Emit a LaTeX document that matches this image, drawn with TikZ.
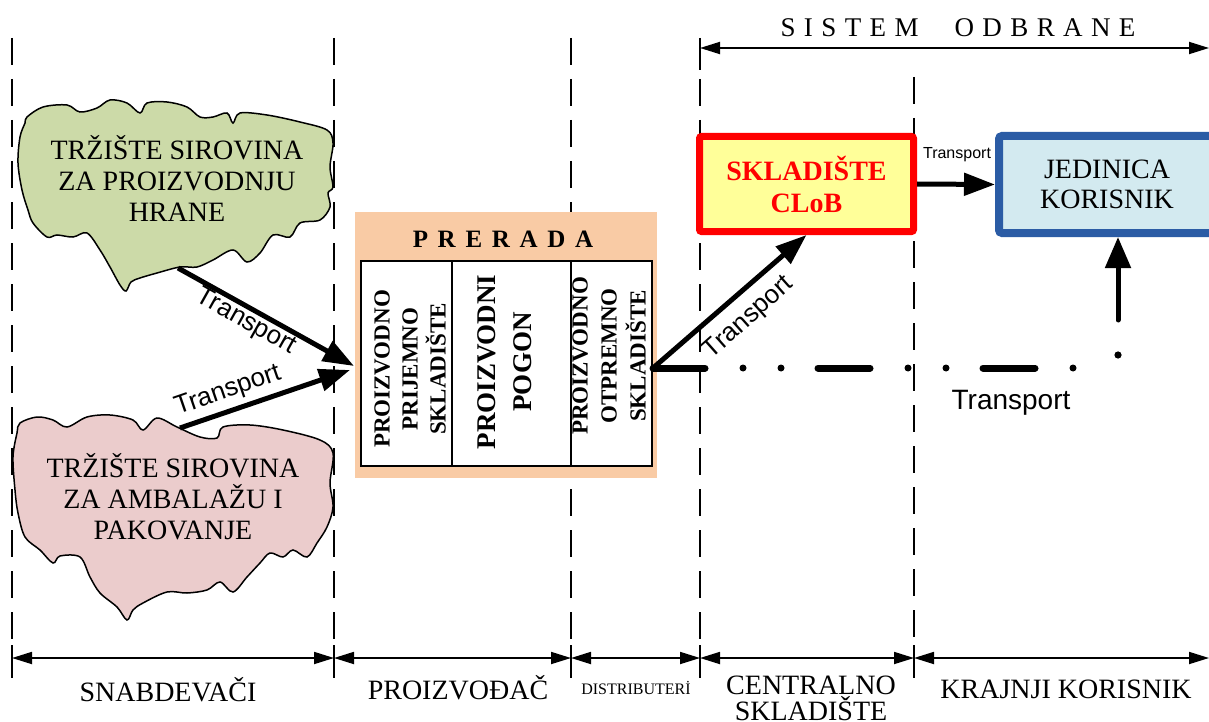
\documentclass[tikz,border=0pt]{standalone}
\usepackage{fontspec}
\setmainfont{Liberation Serif}
\newfontfamily\arialf{Liberation Sans}
\usetikzlibrary{arrows.meta}
\definecolor{cgreen}{RGB}{204,218,168}
\definecolor{cpink}{RGB}{235,204,204}
\definecolor{cpeach}{RGB}{249,203,165}
\definecolor{cyellow}{RGB}{255,255,153}
\definecolor{cred}{RGB}{255,0,0}
\definecolor{cblue}{RGB}{43,92,165}
\definecolor{cblfill}{RGB}{211,234,240}
\newcommand\fs[2]{\fontsize{#1}{#2}\selectfont}
\newcommand\lk{\kern8.4pt}
\newcommand\pk{\kern9.7pt}
\begin{document}
\begin{tikzpicture}[x=1pt,y=-1pt,
  cloudtxt/.style={align=center,font=\fs{28}{31}},
  vtxt/.style={rotate=90,align=center},
  lbl/.style={font=\arialf\fs{26}{30}},
  bigarrow/.style={line width=5pt,-{Triangle[length=31pt,width=22pt]}},
  dimarrow/.style={line width=1.8pt,{Triangle[length=20pt,width=12pt]}-{Triangle[length=20pt,width=12pt]}},
  vdash/.style={line width=1.5pt,dash pattern=on 27pt off 14pt},
  tickline/.style={line width=1.5pt},
  cloudline/.style={line width=1.5pt,draw=black},
  botlbl/.style={font=\fs{28}{26}}
]
\useasboundingbox (0,0) rectangle (1209,722);

% dashed column separators
\foreach \xx in {12,334,571,700}{\draw[vdash] (\xx,38) -- (\xx,642);}
\draw[vdash] (914,77) -- (914,642);
\foreach \xx in {12,334,571,700,914}{\draw[tickline] (\xx,645) -- (\xx,678);}
\draw[tickline] (700,40) -- (700,70);

% top dimension
\coordinate (so1) at (700,48);
\coordinate (so2) at (1209,48);
\draw[dimarrow] (so1) -- (so2);
\node[font=\fs{27}{30}] (sistem) at (958,28) {S\lk I\lk S\lk T\lk E\lk M\kern36pt O\lk D\lk B\lk R\lk A\lk N\lk E};

% bottom dimension arrows
\coordinate (b1) at (12,658);
\coordinate (b2) at (334,658);
\coordinate (b3) at (571,658);
\coordinate (b4) at (700,658);
\coordinate (b5) at (914,658);
\coordinate (b6) at (1209,658);
\draw[dimarrow] (b1) -- (b2);
\draw[dimarrow] (b2) -- (b3);
\draw[dimarrow] (b3) -- (b4);
\draw[dimarrow] (b4) -- (b5);
\draw[dimarrow] (b5) -- (b6);
\node[botlbl] (snab) at (168,690) {SNABDEVAČI};
\node[botlbl] (proizv) at (458,688) {PROIZVOĐAČ};
\node[font=\fs{16}{18}] (distr) at (636,688) {DISTRIBUTERİ};
\node[botlbl,align=center,inner sep=0pt] (centr) at (811,698) {CENTRALNO\\SKLADIŠTE};
\node[botlbl] (krajnji) at (1066,689) {KRAJNJI KORISNIK};

% clouds
\draw[cloudline,fill=cgreen] plot[smooth cycle,tension=0.55] coordinates {
(25,123) (20,137) (18,163) (22,190) (28,210) (33,223) (47,237) (57,235) (73,237) (87,233)
(100,250) (110,267) (120,285) (126,291) (131,282) (140,278) (157,273) (180,267) (197,267)
(213,260) (233,250) (247,262) (260,253) (273,235) (290,237) (300,223) (320,220) (330,207)
(328,193) (333,187) (330,167) (333,143) (327,130) (300,122) (267,115) (240,113) (233,123)
(227,113) (213,117) (200,117) (187,107) (167,102) (147,103) (140,113) (127,103) (110,100)
(97,108) (80,112) (67,105) (43,107) (27,117)};
\draw[cloudline,fill=cpink] plot[smooth cycle,tension=0.55] coordinates {
(17,433) (13,457) (15,490) (18,513) (25,537) (40,550) (53,563) (60,556) (80,557) (90,577)
(100,593) (117,607) (127,620) (133,610) (143,603) (167,592) (187,593) (207,590) (220,582)
(233,592) (247,577) (260,563) (270,553) (283,557) (293,550) (307,557) (317,543) (327,527)
(333,507) (330,483) (333,453) (320,440) (283,430) (250,425) (223,427) (217,438) (200,437)
(177,427) (157,418) (143,430) (133,420) (110,415) (87,417) (67,427) (53,420) (37,417) (20,423)};
\node[cloudtxt] (cl1) at (177,178) {TRŽIŠTE SIROVINA\\ZA PROIZVODNJU\\HRANE};
\node[cloudtxt] (cl2) at (173,497) {TRŽIŠTE SIROVINA\\ZA AMBALAŽU I\\PAKOVANJE};

% PRERADA block
\node[fill=cpeach,inner sep=0pt,minimum width=302pt,minimum height=266pt] (prerada) at (506,345) {};
\draw[line width=2pt,fill=white] (361,261) rectangle (652,466);
\draw[line width=1.5pt] (452,261) -- (452,466);
\draw[line width=1.5pt] (571,261) -- (571,466);
\node[font=\bfseries\fs{25}{28}] (ttl) at (503,239) {P\pk R\pk E\pk R\pk A\pk D\pk A};
\node[vtxt,font=\bfseries\fs{23}{28}] (col1) at (410,369) {PROIZVODNO\\PRIJEMNO\\SKLADIŠTE};
\node[vtxt,font=\bfseries\fs{27}{36}] (col2) at (505,362) {PROIZVODNI\\POGON};
\node[vtxt,font=\bfseries\fs{23}{29}] (col3) at (609,356) {PROIZVODNO\\OTPREMNO\\SKLADIŠTE};

% boxes
\node[draw=cred,line width=7pt,fill=cyellow,rounded corners=2pt,minimum width=214pt,minimum height=95pt,
      align=center,text=cred,font=\bfseries\fs{28}{32}] (sklad) at (806.5,184) {SKLADIŠTE\\CLoB};
\node[draw=cblue,line width=8pt,fill=cblfill,rounded corners=3pt,minimum width=216pt,minimum height=97pt,
      align=center,font=\fs{28}{30}] (jed) at (1107,184.5) {JEDINICA\\KORISNIK};

% transport arrows
\coordinate (c1out) at (178,268);
\coordinate (c2out) at (180,428);
\coordinate (pin1) at (354,366);
\coordinate (pin2) at (350,370);
\coordinate (pout) at (653,368);
\draw[bigarrow] (c1out) -- (pin1);
\draw[bigarrow] (c2out) -- (pin2);
\draw[bigarrow] (pout) -- (sklad.south);
\draw[bigarrow] (sklad.east) -- (jed.west);
\node[lbl,rotate=-29.3] (t1) at (246,322) {Transport};
\node[lbl,rotate=19] (t2) at (228,391) {Transport};
\node[lbl,rotate=41.6] (t3) at (749,318) {Transport};
\node[font=\arialf\fs{16}{18}] (t4) at (957,155) {Transport};

% dash-dot transport line
\coordinate (dend) at (1111,368);
\coordinate (vbase) at (1118,320);
\draw[line width=7pt,line cap=round,dash pattern=on 52pt off 38pt on 0pt off 38pt on 0pt off 37pt] (pout) -- (dend);
\fill (1118,355) circle (3.6pt);
\draw[line width=5pt,line cap=round,-{Triangle[length=31pt,width=25pt]}] (vbase) -- (vbase |- jed.south);
\node[font=\arialf\fs{28}{30}] (t5) at (1011,403) {Transport};
\end{tikzpicture}
\end{document}
